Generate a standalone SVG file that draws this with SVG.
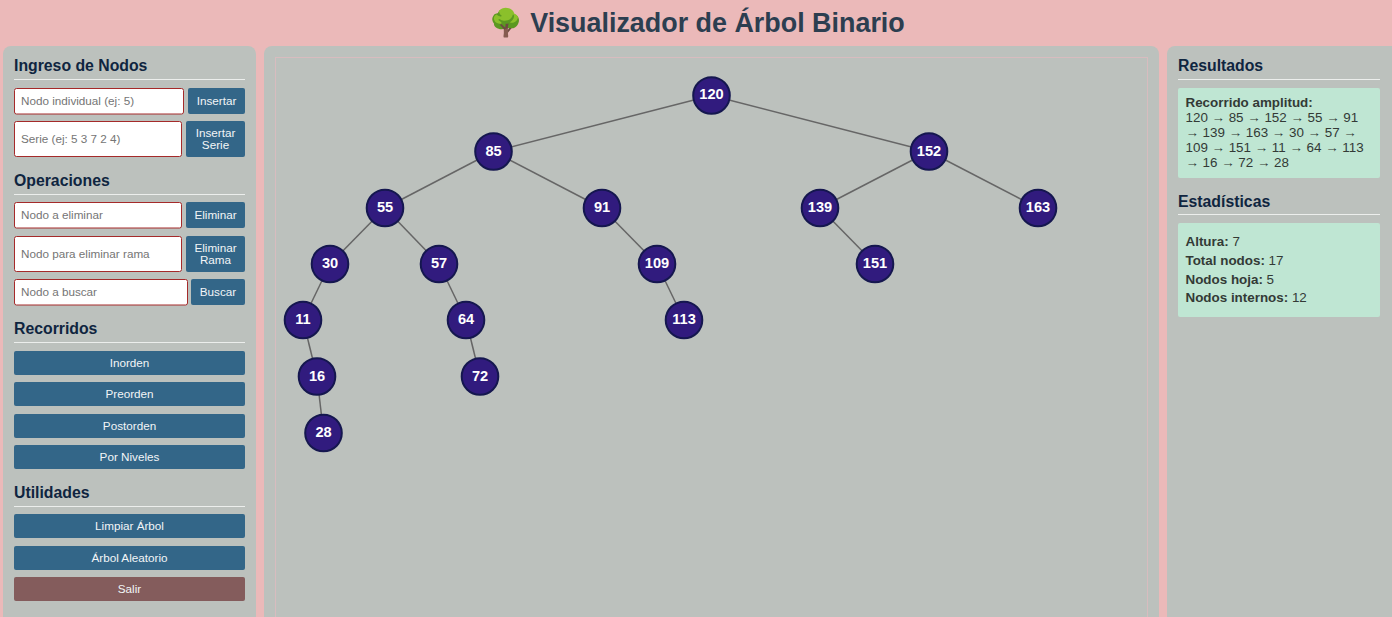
<svg xmlns="http://www.w3.org/2000/svg" width="1392" height="617" viewBox="0 0 1392 617">
<style>
text{font-family:"Liberation Sans",Arial,sans-serif}
.panel{fill:#bcc1bd}
.h{font-size:15.8px;font-weight:700;fill:#0f2540}
.rule{stroke:#eceeec;stroke-width:1}
.in{fill:#fff;stroke:#a52a2a;stroke-width:1}
.ph{font-size:11.7px;fill:#757575}
.btn{fill:#336688}
.bt{font-size:11.7px;fill:#f2f5f7;text-anchor:middle}
.res{fill:#bfe6d3}
.r{font-size:13.4px;fill:#333a36}
.b{font-weight:700}
.edge{stroke:#666;stroke-width:1.5}
.nc{fill:#311b7e;stroke:#15174f;stroke-width:2}
.nt{font-size:14.6px;font-weight:700;fill:#fff;text-anchor:middle}
</style>
<rect width="1392" height="617" fill="#ebb9b9"/>
<text id="title" x="697" y="32" font-size="26.900" font-weight="700" fill="#2c3e50" text-anchor="middle" style="font-family:'Liberation Sans','Noto Color Emoji',sans-serif">🌳 Visualizador de Árbol Binario</text>
<g id="panel-left">
<rect class="panel" x="3" y="46" width="253" height="580" rx="8"/>
<text class="h" x="14" y="71">Ingreso de Nodos</text><line class="rule" x1="14" y1="79.500" x2="245" y2="79.500"/>
<rect class="in" x="14.500" y="88.500" width="169" height="25.500" rx="2"/><text class="ph" x="21" y="105">Nodo individual (ej: 5)</text>
<rect class="btn" x="188" y="88" width="57" height="26" rx="2"/><text class="bt" x="216.500" y="105">Insertar</text>
<rect class="in" x="14.500" y="121.500" width="167" height="35" rx="2"/><text class="ph" x="21" y="143">Serie (ej: 5 3 7 2 4)</text>
<rect class="btn" x="186" y="121" width="59" height="36" rx="2"/><text class="bt" x="215.500" y="137">Insertar</text><text class="bt" x="215.500" y="149">Serie</text>
<text class="h" x="14" y="186">Operaciones</text><line class="rule" x1="14" y1="194.500" x2="245" y2="194.500"/>
<rect class="in" x="14.500" y="202.500" width="167" height="25.500" rx="2"/><text class="ph" x="21" y="219">Nodo a eliminar</text>
<rect class="btn" x="186" y="202" width="59" height="26" rx="2"/><text class="bt" x="215.500" y="219">Eliminar</text>
<rect class="in" x="14.500" y="236.500" width="167" height="35" rx="2"/><text class="ph" x="21" y="258">Nodo para eliminar rama</text>
<rect class="btn" x="186" y="236" width="59" height="36" rx="2"/><text class="bt" x="215.500" y="252">Eliminar</text><text class="bt" x="215.500" y="264">Rama</text>
<rect class="in" x="14.500" y="279.500" width="173" height="25.500" rx="2"/><text class="ph" x="21" y="296">Nodo a buscar</text>
<rect class="btn" x="191" y="279" width="54" height="26" rx="2"/><text class="bt" x="218" y="296">Buscar</text>
<text class="h" x="14" y="334">Recorridos</text><line class="rule" x1="14" y1="342.500" x2="245" y2="342.500"/>
<rect class="btn" x="14" y="351" width="231" height="24" rx="2"/><text class="bt" x="129.500" y="367">Inorden</text>
<rect class="btn" x="14" y="382" width="231" height="24" rx="2"/><text class="bt" x="129.500" y="398">Preorden</text>
<rect class="btn" x="14" y="414" width="231" height="24" rx="2"/><text class="bt" x="129.500" y="430">Postorden</text>
<rect class="btn" x="14" y="445" width="231" height="24" rx="2"/><text class="bt" x="129.500" y="461">Por Niveles</text>
<text class="h" x="14" y="498">Utilidades</text><line class="rule" x1="14" y1="506.500" x2="245" y2="506.500"/>
<rect class="btn" x="14" y="514" width="231" height="24" rx="2"/><text class="bt" x="129.500" y="530">Limpiar Árbol</text>
<rect class="btn" x="14" y="546" width="231" height="24" rx="2"/><text class="bt" x="129.500" y="562">Árbol Aleatorio</text>
<rect x="14" y="577" width="231" height="24" rx="2" fill="#845c5c"/><text class="bt" x="129.500" y="593">Salir</text>
</g>
<g id="panel-center">
<rect class="panel" x="264" y="46" width="895" height="580" rx="8"/>
<rect x="275.500" y="57.500" width="872" height="570" fill="none" stroke="#d8bcbf" stroke-width="1"/>
</g>
<g id="panel-right">
<rect class="panel" x="1167" y="46" width="235" height="580" rx="8"/>
<text class="h" x="1178" y="71">Resultados</text><line class="rule" x1="1178" y1="79.500" x2="1380" y2="79.500"/>
<rect class="res" x="1178" y="88" width="202" height="90" rx="2"/>
<text class="r b" x="1185.500" y="107">Recorrido amplitud:</text>
<text class="r" x="1185.500" y="122">120 → 85 → 152 → 55 → 91</text>
<text class="r" x="1185.500" y="137">→ 139 → 163 → 30 → 57 →</text>
<text class="r" x="1185.500" y="152">109 → 151 → 11 → 64 → 113</text>
<text class="r" x="1185.500" y="167">→ 16 → 72 → 28</text>
<text class="h" x="1178" y="207">Estadísticas</text><line class="rule" x1="1178" y1="214.500" x2="1380" y2="214.500"/>
<rect class="res" x="1178" y="223" width="202" height="94" rx="2"/>
<text class="r" x="1185.500" y="246"><tspan class="b">Altura:</tspan> 7</text>
<text class="r" x="1185.500" y="265"><tspan class="b">Total nodos:</tspan> 17</text>
<text class="r" x="1185.500" y="284"><tspan class="b">Nodos hoja:</tspan> 5</text>
<text class="r" x="1185.500" y="302"><tspan class="b">Nodos internos:</tspan> 12</text>
</g>
<g id="connectors">
<line class="edge" x1="711.500" y1="95.500" x2="493.500" y2="151.500"/>
<line class="edge" x1="711.500" y1="95.500" x2="929" y2="151.500"/>
<line class="edge" x1="493.500" y1="151.500" x2="385" y2="208"/>
<line class="edge" x1="493.500" y1="151.500" x2="602" y2="208"/>
<line class="edge" x1="929" y1="151.500" x2="820" y2="208"/>
<line class="edge" x1="929" y1="151.500" x2="1038" y2="208"/>
<line class="edge" x1="385" y1="208" x2="330" y2="264"/>
<line class="edge" x1="385" y1="208" x2="439" y2="264"/>
<line class="edge" x1="602" y1="208" x2="657" y2="264"/>
<line class="edge" x1="820" y1="208" x2="875" y2="264"/>
<line class="edge" x1="330" y1="264" x2="303" y2="320"/>
<line class="edge" x1="439" y1="264" x2="466" y2="320"/>
<line class="edge" x1="657" y1="264" x2="684" y2="320"/>
<line class="edge" x1="303" y1="320" x2="317" y2="376.500"/>
<line class="edge" x1="466" y1="320" x2="480" y2="376.500"/>
<line class="edge" x1="317" y1="376.500" x2="323.500" y2="433"/>
</g>
<g id="node-120"><circle class="nc" cx="711.500" cy="95.500" r="18.300"/><text class="nt" x="711.500" y="99">120</text></g>
<g id="node-85"><circle class="nc" cx="493.500" cy="151.500" r="18.300"/><text class="nt" x="493.500" y="155.500">85</text></g>
<g id="node-152"><circle class="nc" cx="929" cy="151.500" r="18.300"/><text class="nt" x="929" y="155.500">152</text></g>
<g id="node-55"><circle class="nc" cx="385" cy="208" r="18.300"/><text class="nt" x="385" y="212">55</text></g>
<g id="node-91"><circle class="nc" cx="602" cy="208" r="18.300"/><text class="nt" x="602" y="212">91</text></g>
<g id="node-139"><circle class="nc" cx="820" cy="208" r="18.300"/><text class="nt" x="820" y="212">139</text></g>
<g id="node-163"><circle class="nc" cx="1038" cy="208" r="18.300"/><text class="nt" x="1038" y="212">163</text></g>
<g id="node-30"><circle class="nc" cx="330" cy="264" r="18.300"/><text class="nt" x="330" y="268">30</text></g>
<g id="node-57"><circle class="nc" cx="439" cy="264" r="18.300"/><text class="nt" x="439" y="268">57</text></g>
<g id="node-109"><circle class="nc" cx="657" cy="264" r="18.300"/><text class="nt" x="657" y="268">109</text></g>
<g id="node-151"><circle class="nc" cx="875" cy="264" r="18.300"/><text class="nt" x="875" y="268">151</text></g>
<g id="node-11"><circle class="nc" cx="303" cy="320" r="18.300"/><text class="nt" x="303" y="324">11</text></g>
<g id="node-64"><circle class="nc" cx="466" cy="320" r="18.300"/><text class="nt" x="466" y="324">64</text></g>
<g id="node-113"><circle class="nc" cx="684" cy="320" r="18.300"/><text class="nt" x="684" y="324">113</text></g>
<g id="node-16"><circle class="nc" cx="317" cy="376.500" r="18.300"/><text class="nt" x="317" y="381">16</text></g>
<g id="node-72"><circle class="nc" cx="480" cy="376.500" r="18.300"/><text class="nt" x="480" y="381">72</text></g>
<g id="node-28"><circle class="nc" cx="323.500" cy="433" r="18.300"/><text class="nt" x="323.500" y="437">28</text></g>
</svg>
